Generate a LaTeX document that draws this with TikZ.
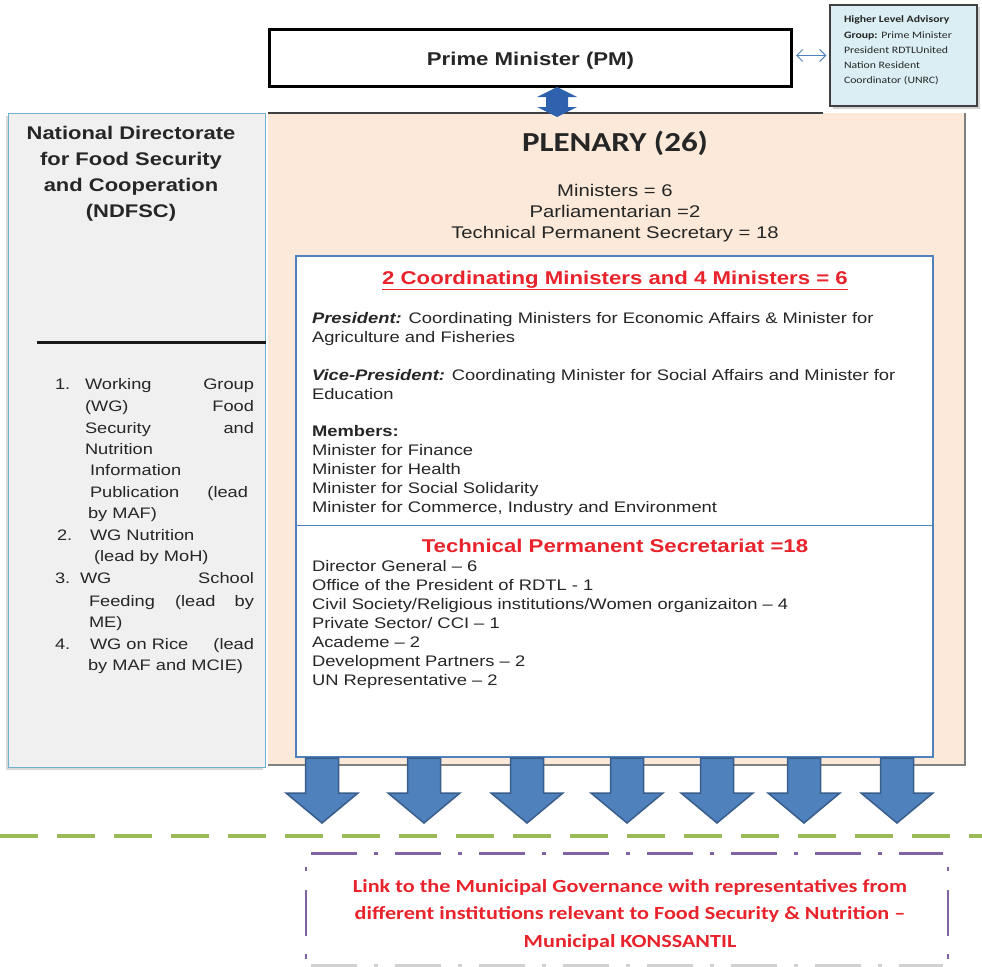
\documentclass[tikz,border=0pt]{standalone}
\usepackage{fontspec}
\setmainfont[FakeStretch=1.2]{Liberation Sans}
\newfontfamily\calfont[FakeStretch=1.2]{Carlito}
\usetikzlibrary{arrows.meta,shadows}
\definecolor{peach}{HTML}{FDE9D9}
\definecolor{ltgray}{HTML}{F0F0F0}
\definecolor{teal}{HTML}{6FB2CF}
\definecolor{advblue}{HTML}{DAEEF3}
\definecolor{ablue}{HTML}{4F81BD}
\definecolor{ablueborder}{HTML}{385D8A}
\definecolor{dblue}{HTML}{2F62AE}
\definecolor{tred}{HTML}{E8232B}
\definecolor{lgreen}{HTML}{9BBB59}
\definecolor{lpurple}{HTML}{8064A2}
\definecolor{txtgray}{HTML}{262626}
\tikzset{
  plain/.style={inner sep=0pt, outer sep=0pt, text=txtgray},
  bodytxt/.style={plain, font=\fontsize{15.3}{19}\selectfont, anchor=base west, align=left},
  listtxt/.style={plain, font=\fontsize{15.2}{21.5}\selectfont, anchor=base west},
  listright/.style={listtxt, anchor=base east},
  redhead/.style={plain, font=\bfseries\fontsize{18.5}{22}\selectfont, text=tred, anchor=base},
  blockarrow/.style={fill=ablue, draw=ablueborder, line width=1.5pt, line join=miter},
  boxshadow/.style={drop shadow={shadow xshift=2.5pt, shadow yshift=-2.5pt, opacity=0.35}}
}
\begin{document}
\begin{tikzpicture}[x=1pt,y=-1pt]
\useasboundingbox (0,0) rectangle (982,966);

% Plenary background
\fill[peach] (268,113) rectangle (965,765);
\draw[black!75, line width=1.2pt] (268,113) -- (823,113);
\draw[black!50, line width=1.5pt] (965,113) -- (965,765) -- (268,765);
\node[plain, font=\calfont\bfseries\fontsize{27.5}{30}\selectfont, anchor=base] (plen) at (615,151) {PLENARY (26)};
% multi-line nodes: base anchor = baseline of last line
\node[plain, font=\fontsize{16.9}{21}\selectfont, align=center, anchor=base] (plist) at (615,238)
  {Ministers = 6\\Parliamentarian =2\\Technical Permanent Secretary = 18};

% PM box
\node[draw=black, line width=3pt, fill=white, minimum width=522pt, minimum height=57pt, inner sep=0pt] (pm) at (530.5,58) {};
\node[plain, font=\bfseries\fontsize{18.5}{20}\selectfont, anchor=base] (pmt) at (530.5,66) {Prime Minister (PM)};

% Advisory box
\node[draw=black!75, line width=1.2pt, fill=advblue, boxshadow, minimum width=147pt, minimum height=101pt, inner sep=0pt] (adv) at (903.5,55.5) {};
\node[plain, font=\calfont\fontsize{9.8}{15}\selectfont, align=left, anchor=base west] (advt) at (844,83)
  {\textbf{Higher Level Advisory}\\\textbf{Group:} Prime Minister\\President RDTLUnited\\Nation Resident\\Coordinator (UNRC)};
\draw[ablue, line width=1pt, {Straight Barb[length=6pt,width=12pt]}-{Straight Barb[length=6pt,width=12pt]}]
  ([xshift=3pt]pm.east |- adv.west) -- ([xshift=-3pt]adv.west);

% vertical double block arrow PM <-> Plenary
\coordinate (va) at (557,87);
\coordinate (vb) at (557,117);
\fill[dblue] (va) -- ++(20,10) -- ++(-9,0) -- ++(0,10) -- ++(9,0) -- (vb) -- ++(-20,-10) -- ++(9,0) -- ++(0,-10) -- ++(-9,0) -- cycle;

% NDFSC box
\node[draw=teal, line width=1pt, fill=ltgray, drop shadow={shadow xshift=-2.5pt, shadow yshift=-2.5pt, opacity=0.3}, minimum width=257pt, minimum height=654pt, inner sep=0pt] (nd) at (136.5,440) {};
\node[plain, font=\bfseries\fontsize{18.3}{26}\selectfont, align=center, anchor=base] (ndt) at (131,217)
  {National Directorate\\for Food Security\\and Cooperation\\(NDFSC)};
\draw[black!90, line width=3pt] (37,342) -- (nd.east |- 0,342);

% list
\node[listtxt] (n1) at (55,389) {1.};
\node[listtxt] (l1a) at (85,389) {Working};
\node[listright] (l1b) at (254,389) {Group};
\node[listtxt] (l2a) at (85,411) {(WG)};
\node[listright] (l2b) at (254,411) {Food};
\node[listtxt] (l3a) at (85,433) {Security};
\node[listright] (l3b) at (254,433) {and};
\node[listtxt] (l4) at (85,454) {Nutrition};
\node[listtxt] (l5) at (90,475) {Information};
\node[listtxt] (l6a) at (90,497) {Publication};
\node[listright] (l6b) at (248,497) {(lead};
\node[listtxt] (l7) at (88,518) {by MAF)};
\node[listtxt] (n2) at (57,540) {2.};
\node[listtxt] (l8) at (90,540) {WG Nutrition};
\node[listtxt] (l9) at (94,561) {(lead by MoH)};
\node[listtxt] (n3) at (55,583) {3.};
\node[listtxt] (l10a) at (80,583) {WG};
\node[listright] (l10b) at (254,583) {School};
\node[listtxt] (l11a) at (89,606) {Feeding};
\node[listtxt] (l11b) at (175,606) {(lead};
\node[listright] (l11c) at (254,606) {by};
\node[listtxt] (l12) at (89,627) {ME)};
\node[listtxt] (n4) at (55,649) {4.};
\node[listtxt] (l13a) at (90,649) {WG on Rice};
\node[listright] (l13b) at (254,649) {(lead};
\node[listtxt] (l14) at (88,670) {by MAF and MCIE)};

% Inner box
\node[draw=ablue, line width=2.8pt, fill=white, minimum width=637pt, minimum height=501pt, inner sep=0pt] (inner) at (614.5,506.5) {};
\draw[ablue, line width=1pt] (inner.west |- 0,525) -- (inner.east |- 0,525);
\node[redhead] (h1) at (615,284) {\underline{2 Coordinating Ministers and 4 Ministers = 6}};
\node[bodytxt] (pres) at (312,342) {\textbf{\textit{President:}} Coordinating Ministers for Economic Affairs \& Minister for\\Agriculture and Fisheries};
\node[bodytxt] (vpres) at (312,399) {\textbf{\textit{Vice-President:}} Coordinating Minister for Social Affairs and Minister for\\Education};
\node[bodytxt] (mem) at (312,512) {\textbf{Members:}\\Minister for Finance\\Minister for Health\\Minister for Social Solidarity\\Minister for Commerce, Industry and Environment};
\node[redhead] (h2) at (615,552) {Technical Permanent Secretariat =18};
\node[bodytxt, font=\fontsize{15.3}{18.85}\selectfont] (tps) at (312,685) {Director General – 6\\Office of the President of RDTL - 1\\Civil Society/Religious institutions/Women organizaiton – 4\\Private Sector/ CCI – 1\\Academe – 2\\Development Partners – 2\\UN Representative – 2};

% seven down arrows
\foreach \cx [count=\i] in {322,424,527,627,717,804,897}{
  \coordinate (d\i) at (\cx,758);
  \draw[blockarrow] (d\i) ++(-16.5,0) -- ++(0,35) -- ++(-19.5,0) -- ++(36,30) -- ++(36,-30) -- ++(-19.5,0) -- ++(0,-35) -- cycle;
}

% green dashed line
\draw[lgreen, line width=4.5pt, dash pattern=on 38pt off 19pt] (0,836) -- (982,836);

% purple dash-dot box
\draw[lpurple, line width=3pt, dash pattern=on 46pt off 17pt on 4pt off 17pt] (311,853) -- (943,853);
\draw[lpurple, line width=2.5pt, dash pattern=on 4pt off 19pt on 46pt off 18pt on 5pt off 20pt] (306,867) -- (306,960);
\draw[lpurple, line width=2.5pt, dash pattern=on 4pt off 19pt on 46pt off 18pt on 5pt off 20pt] (948,867) -- (948,960);
\draw[black!18, line width=3pt, dash pattern=on 46pt off 17pt on 4pt off 17pt] (311,965) -- (943,965);
\node[plain, font=\calfont\bfseries\fontsize{18.5}{27.5}\selectfont, text=tred, align=center, anchor=base] (link) at (630,947)
  {Link to the Municipal Governance with representatives from\\different institutions relevant to Food Security \& Nutrition –\\Municipal KONSSANTIL};
\end{tikzpicture}
\end{document}
